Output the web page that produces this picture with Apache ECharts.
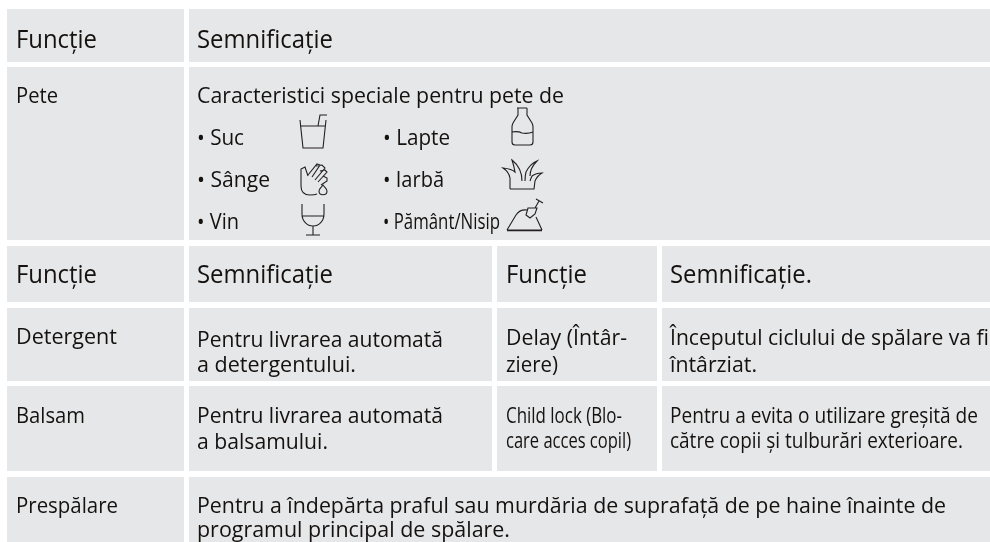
<!DOCTYPE html>
<html>
<head>
<meta charset="utf-8">
<title>Funcție</title>
<script src="https://cdn.jsdelivr.net/npm/echarts@6/dist/echarts.min.js"></script>
<style>
html, body { margin: 0; padding: 0; background: #fff; }
#main { width: 990px; height: 542px; }
</style>
</head>
<body>
<div id="main"></div>
<script>
// table content
var headers = ['Funcție', 'Semnificație', 'Semnificație.'];
var functions = ['Pete', 'Detergent', 'Balsam', 'Prespălare'];
var stainIntro = ['Caracteristici speciale pentru pete de'];
var stains = ['• Suc', '• Lapte', '• Sânge', '• Iarbă', '• Vin', '• Pământ/Nisip'];
var meanings = ['Pentru livrarea automată', 'a detergentului.', 'a balsamului.'];
var rightFunctions = ['Delay (Întâr-', 'ziere)', 'Child lock (Blo-', 'care acces copil)'];
var rightMeanings = ['Începutul ciclului de spălare va fi', 'întârziat.', 'Pentru a evita o utilizare greșită de', 'către copii și tulburări exterioare.'];
var prewash = ['Pentru a îndepărta praful sau murdăria de suprafață de pe haine înainte de', 'programul principal de spălare.'];

// cell boxes [x0, y0, x1, y1]
var cellBoxes = [
	[7, 9, 184, 62], [189, 9, 990, 62],
	[7, 67, 184, 240], [189, 67, 990, 240],
	[7, 246, 184, 302], [189, 246, 492, 302], [497, 246, 657, 302], [662, 246, 990, 302],
	[7, 308, 184, 381], [189, 308, 492, 381], [497, 308, 657, 381], [662, 308, 990, 381],
	[7, 386, 184, 471], [189, 386, 492, 471], [497, 386, 657, 471], [662, 386, 990, 471],
	[7, 477, 184, 542], [189, 477, 990, 542]
];

// text placement [text, left, right, baseline, font size]
var head = 25, body = 22;
var placements = [
	[headers[0], 16, 97, 48, head], [headers[1], 197, 333, 48, head],
	[functions[0], 16, 58, 103, body], [stainIntro[0], 197, 564, 103, body],
	[stains[0], 197, 244, 145, body], [stains[1], 383, 450, 145, body],
	[stains[2], 197, 270, 187, body], [stains[3], 383, 444, 187, body],
	[stains[4], 197, 239, 229, body], [stains[5], 383, 500, 229, body],
	[headers[0], 16, 97, 283, head], [headers[1], 197, 333, 283, head],
	[headers[0], 506, 587, 283, head], [headers[2], 670, 812, 283, head],
	[functions[1], 16, 117, 344, body], [meanings[0], 197, 443, 347, body], [meanings[1], 197, 356, 372, body],
	[rightFunctions[0], 506, 627, 345, body], [rightFunctions[1], 506, 558, 372, body],
	[rightMeanings[0], 670, 989, 345, body], [rightMeanings[1], 670, 757, 372, body],
	[functions[2], 16, 85, 423, body], [meanings[0], 197, 443, 423, body], [meanings[2], 197, 328, 449, body],
	[rightFunctions[2], 506, 622, 423, body], [rightFunctions[3], 506, 631, 448, body],
	[rightMeanings[2], 670, 978, 423, body], [rightMeanings[3], 670, 963, 448, body],
	[functions[3], 16, 118, 513, body], [prewash[0], 197, 946, 513, body], [prewash[1], 197, 510, 537, body]
];

// little line drawings next to the stains
var icons = [
	'M300 120L303 148L323 148L326 120M300 126L325 126M318 126L320 115L327 115',
	'M301 186L301 169L305 167L308 176M308 175L317 164L320 165L312 177M316 166L322 165L325 168L315 180M320 171L325 170L327 172L318 182M323 176L327 178L327 181L321 185M301 186C301 193 305 195 310 195C313 195 315 195 317 194',
	'M323 185C321 188 319 189 319 191C319 196 327 196 327 191C327 189 325 188 323 185Z',
	'M302 204L302 214C302 221 307 226 313 226C319 226 324 221 324 214L324 204M302 216L324 216M313 226L313 235M306 235L320 235',
	'M517 108L527 108M518 108L518 115L513 123Q512 125 512 127L512 142Q512 145 515 145L530 145Q533 145 533 142L533 127Q533 125 532 123L527 115L527 108M512 132Q518 131 522 133Q528 134 533 132',
	'M510 189L534 189L535 181Q537 176 542 173Q536 173 532 176Q531 178 530 181M530 176Q530 168 537 161Q530 164 526 172Q525 176 525 181M522 181Q522 168 512 160Q514 166 515 172Q512 169 503 168Q509 172 510 178L510 189',
	'M507 230L542 230M507 230.7L542 230.7M507 230L516 215Q520 209 527 210M536 217L542 230',
	'M528 208L526 215L530 218L535 214L537 208ZM535 208L539 201M536 199L543 203'
];

var measure = document.createElement('canvas').getContext('2d');

function textElement(item) {
	var font = item[4] + 'px "Open Sans"';
	measure.font = font;
	measure.textBaseline = 'alphabetic';
	var width = measure.measureText(item[0]).width;
	// distance from the middle line to the baseline, x has no descender
	measure.textBaseline = 'middle';
	var drop = measure.measureText('x').actualBoundingBoxDescent;
	return {
		type: 'text',
		x: item[1],
		y: item[3] - drop,
		scaleX: (item[2] - item[1]) / width,
		silent: true,
		style: {
			text: item[0],
			font: font,
			fill: '#14110f',
			textAlign: 'left',
			verticalAlign: 'middle'
		}
	};
}

var elements = [];
cellBoxes.forEach(function(c) {
	elements.push({
		type: 'rect',
		silent: true,
		shape: { x: c[0], y: c[1], width: c[2] - c[0], height: c[3] - c[1] },
		style: { fill: '#e6e7e8' }
	});
});
placements.forEach(function(p) {
	elements.push(textElement(p));
});
icons.forEach(function(d, i) {
	echarts.graphic.registerShape('icon' + i, echarts.graphic.extendPath(d, {}));
	elements.push({
		type: 'icon' + i,
		silent: true,
		style: { fill: 'none', stroke: '#231f20', lineWidth: 1.1 }
	});
});

var chart = echarts.init(document.getElementById('main'), null, { renderer: 'canvas' });
chart.setOption({
	animation: false,
	backgroundColor: '#fff',
	graphic: { elements: elements }
});
</script>
</body>
</html>
